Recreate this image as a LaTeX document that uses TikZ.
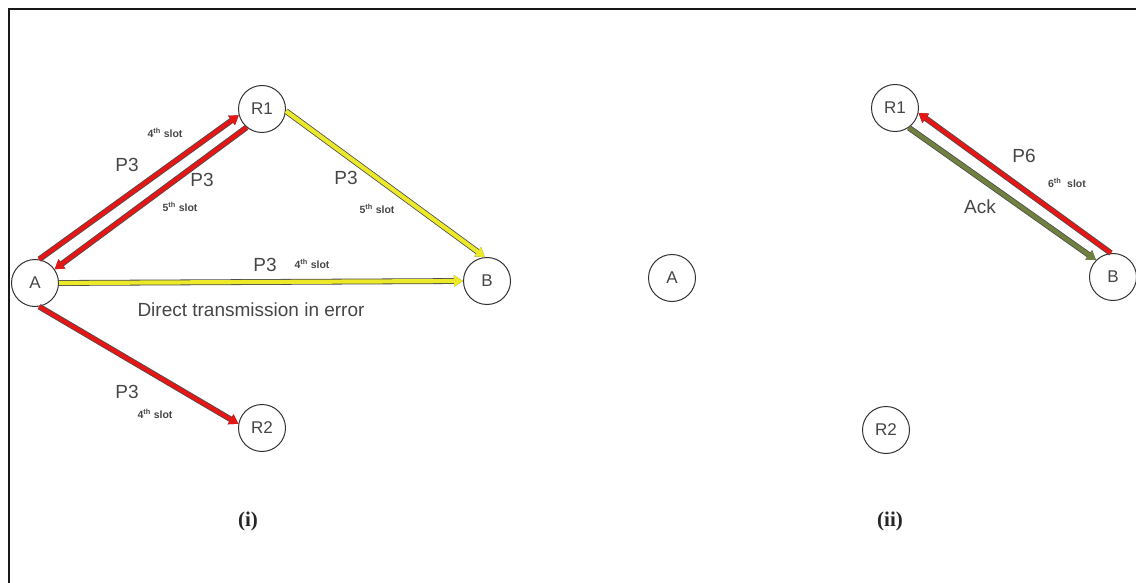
\documentclass[tikz,border=0pt]{standalone}
\usepackage{fontspec}
\setmainfont{Liberation Sans}
\newfontfamily\serifb{Liberation Serif}
\usetikzlibrary{arrows.meta}
\definecolor{lred}{RGB}{228,22,22}
\definecolor{lyel}{RGB}{236,234,40}
\definecolor{lgrn}{RGB}{112,128,62}
\definecolor{txt}{RGB}{70,70,70}
\tikzset{
  station/.style={circle, draw=black!80, line width=1pt, fill=white, minimum size=47pt, inner sep=0pt, font=\fontsize{17}{17}\selectfont, text=txt},
  link/.style={draw=#1, line width=4.2pt, preaction={draw=black!70, line width=5.8pt}, -{Triangle[length=9pt,width=11pt]}},
  big/.style={font=\fontsize{19}{19}\selectfont, text=txt},
  slot/.style={font=\fontsize{10.5}{10.5}\selectfont\bfseries, text=txt},
  panelcap/.style={font=\fontsize{21}{21}\selectfont\serifb\bfseries, text=black!85}
}
\begin{document}
\begin{tikzpicture}[x=1pt,y=-1pt]
\useasboundingbox (0,0) rectangle (1136,583);
\draw[line width=2pt, black!90] (9,583) -- (9,9) -- (1136,9);
% panel (i)
\node[station] (Ai) at (35,283) {A};
\node[station] (R1i) at (262,109) {R1};
\node[station] (Bi) at (487,281) {B};
\node[station] (R2i) at (262,428) {R2};
\draw[link=lyel] (R1i.-5) -- (Bi.95);
\draw[link=lyel] (Ai.east) -- (Bi.west);
\draw[link=lred] (Ai.80) -- (R1i.195);
\draw[link=lred] (R1i.230) -- (Ai.35);
\draw[link=lred] (Ai.-80) -- (R2i.170);
\node[slot] (s1) at (165,133) {4\textsuperscript{th} slot};
\node[big] (p1) at (127,165) {P3};
\node[big] (p2) at (202,180) {P3};
\node[slot] (s2) at (180,207) {5\textsuperscript{th} slot};
\node[big] (p3) at (346,178) {P3};
\node[slot] (s3) at (377,209) {5\textsuperscript{th} slot};
\node[big] (p4) at (265,265) {P3};
\node[slot] (s4) at (312,264) {4\textsuperscript{th} slot};
\node[big] (dt) at (251,310) {Direct transmission in error};
\node[big] (p5) at (127,392) {P3};
\node[slot] (s5) at (155,414) {4\textsuperscript{th} slot};
\node[panelcap] (ci) at (248,521) {(i)};
% panel (ii)
\node[station] (Aii) at (672,278) {A};
\node[station] (R1ii) at (895,108) {R1};
\node[station] (Bii) at (1113,277) {B};
\node[station] (R2ii) at (886,430) {R2};
\draw[link=lred] (Bii.95) -- (R1ii.-12);
\draw[link=lgrn] (R1ii.-55) -- (Bii.135);
\node[big] (p6) at (1024,156) {P6};
\node[slot] (s6) at (1067,183) {6\textsuperscript{th} \ slot};
\node[big] (ack) at (980,207) {Ack};
\node[panelcap] (cii) at (890,521) {(ii)};
\end{tikzpicture}
\end{document}
